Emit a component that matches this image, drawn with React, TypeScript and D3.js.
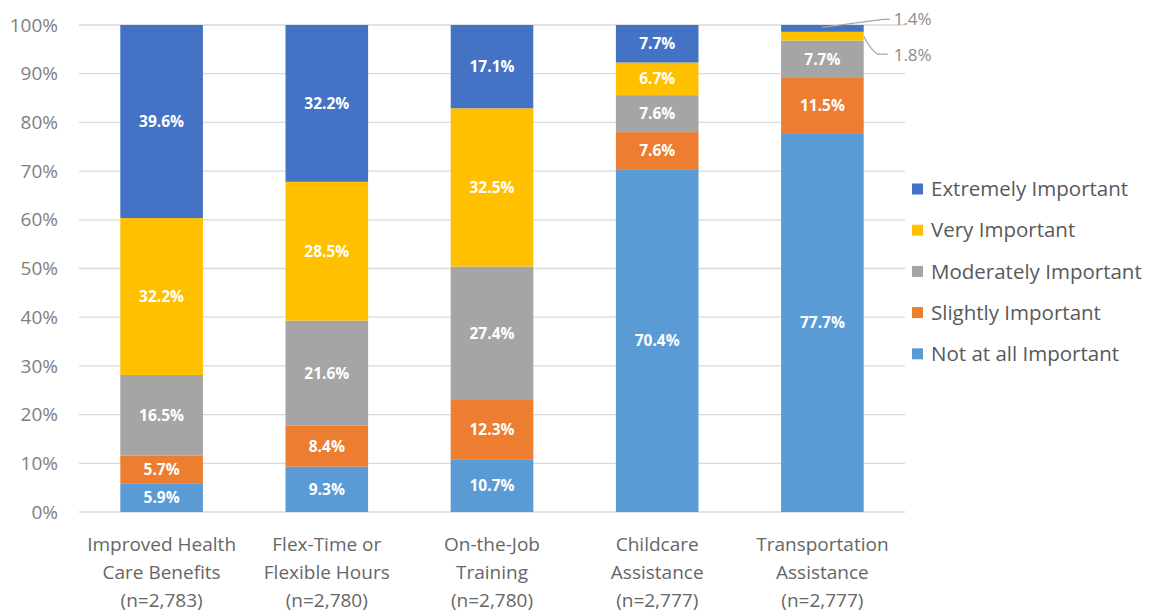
import { useMemo } from 'react';
import * as d3 from 'd3';

const categories = [
  ['Improved Health', 'Care Benefits', '(n=2,783)'],
  ['Flex-Time or', 'Flexible Hours', '(n=2,780)'],
  ['On-the-Job', 'Training', '(n=2,780)'],
  ['Childcare', 'Assistance', '(n=2,777)'],
  ['Transportation', 'Assistance', '(n=2,777)'],
];

// stacked bottom to top
const seriesNames = [
  'Not at all Important',
  'Slightly Important',
  'Moderately Important',
  'Very Important',
  'Extremely Important',
];
const seriesColors = ['#5B9BD5', '#ED7D31', '#A5A5A5', '#FFC000', '#4472C4'];

const notAtAll = [5.9, 9.3, 10.7, 70.4, 77.7];
const slightly = [5.7, 8.4, 12.3, 7.6, 11.5];
const moderately = [16.5, 21.6, 27.4, 7.6, 7.7];
const very = [32.2, 28.5, 32.5, 6.7, 1.8];
const extremely = [39.6, 32.2, 17.1, 7.7, 1.4];

const yTicks = [0, 10, 20, 30, 40, 50, 60, 70, 80, 90, 100];

const W = 1151;
const H = 614;
const M = { left: 79, right: 246, top: 25, bottom: 102 };

export default function App() {
  const values = [notAtAll, slightly, moderately, very, extremely];

  const x = d3
    .scaleBand<number>()
    .domain(d3.range(categories.length))
    .range([M.left, W - M.right])
    .paddingInner(0.5)
    .paddingOuter(0.25);
  const y = d3.scaleLinear().domain([0, 100]).range([H - M.bottom, M.top]);

  const stacks = useMemo(() => {
    const rows = categories.map((_, i) => {
      const total = d3.sum(values, (s) => s[i]);
      const row: Record<string, number> = {};
      values.forEach((s, k) => (row[seriesNames[k]] = (s[i] / total) * 100));
      return row;
    });
    return d3.stack<Record<string, number>>().keys(seriesNames)(rows);
  }, []);

  const gridColor = '#d9d9d9';
  const textGray = '#808080';
  const font = '"Open Sans", "Noto Sans", sans-serif';

  return (
    <svg
      width={W}
      height={H}
      style={{ position: 'absolute', left: 0, top: 0, background: '#fff' }}
      fontFamily={font}
    >
      {/* gridlines */}
      {yTicks.map((t) => (
        <g key={t}>
          <line
            x1={M.left}
            x2={W - M.right}
            y1={y(t)}
            y2={y(t)}
            stroke={gridColor}
            strokeWidth={1.3}
          />
          <text
            x={58}
            y={y(t)}
            dy="0.35em"
            textAnchor="end"
            fontSize={19}
            fill={textGray}
          >
            {t}%
          </text>
        </g>
      ))}

      {/* bars */}
      {stacks.map((layer, k) => (
        <g key={layer.key}>
          {layer.map((d, i) => {
            const y0 = y(d[0]);
            const y1 = y(d[1]);
            const v = values[k][i];
            const small = v < 3;
            return (
              <g key={i}>
                <rect
                  x={x(i)}
                  y={y1}
                  width={x.bandwidth()}
                  height={y0 - y1}
                  fill={seriesColors[k]}
                />
                {!small && (
                  <text
                    x={x(i)! + x.bandwidth() / 2}
                    y={(y0 + y1) / 2}
                    dy="0.35em"
                    textAnchor="middle"
                    fontSize={15.5}
                    fontWeight={700}
                    fill="#fff"
                  >
                    {v.toFixed(1)}%
                  </text>
                )}
              </g>
            );
          })}
        </g>
      ))}

      {/* callouts for thin segments on last bar */}
      {(() => {
        const i = categories.length - 1;
        const bx = x(i)!;
        const bw = x.bandwidth();
        const ext = stacks[4][i];
        const vr = stacks[3][i];
        const extMid = y((ext[0] + ext[1]) / 2);
        const vrMid = y((vr[0] + vr[1]) / 2);
        return (
          <g fill="none" stroke="#a6a6a6" strokeWidth={1.3}>
            <path d={`M${bx + bw / 2},${extMid - 1} L${bx + bw + 19},${extMid - 9} L${bx + bw + 26},${extMid - 9}`} />
            <path d={`M${bx + bw},${vrMid} Q${bx + bw + 8},${vrMid + 15} ${bx + bw + 14},${vrMid + 18} L${bx + bw + 24},${vrMid + 18}`} />
            <text x={bx + bw + 30} y={extMid - 9} dy="0.35em" fontSize={17} fill="#8c8c8c" stroke="none">
              {extremely[i].toFixed(1)}%
            </text>
            <text x={bx + bw + 30} y={vrMid + 19} dy="0.35em" fontSize={17} fill="#8c8c8c" stroke="none">
              {very[i].toFixed(1)}%
            </text>
          </g>
        );
      })()}

      {/* category labels */}
      {categories.map((lines, i) => (
        <text
          key={i}
          x={x(i)! + x.bandwidth() / 2}
          textAnchor="middle"
          fontSize={19}
          fill="#666"
        >
          {lines.map((l, j) => (
            <tspan key={j} x={x(i)! + x.bandwidth() / 2} y={544 + j * 28} dy="0.35em">
              {l}
            </tspan>
          ))}
        </text>
      ))}

      {/* legend */}
      {[...seriesNames].reverse().map((name, j) => {
        const k = seriesNames.length - 1 - j;
        const ly = 189 + j * 41.2;
        return (
          <g key={name}>
            <rect x={912} y={ly - 5.5} width={11} height={11} fill={seriesColors[k]} />
            <text x={931} y={ly} dy="0.35em" fontSize={20.5} fill="#595959">
              {name}
            </text>
          </g>
        );
      })}
    </svg>
  );
}
